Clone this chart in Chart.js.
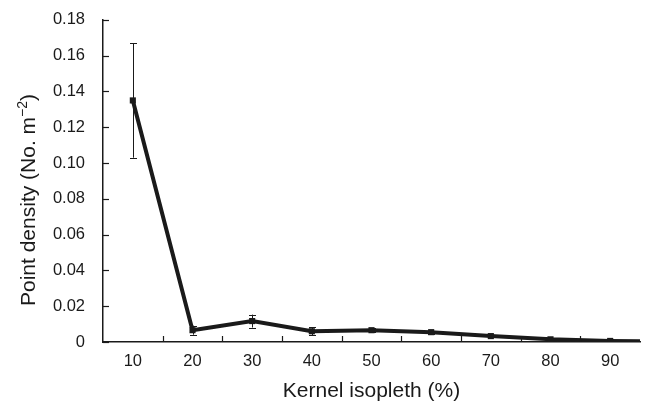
<!DOCTYPE html>
<html>
<head>
<meta charset="utf-8">
<script src="https://cdn.jsdelivr.net/npm/chart.js@4"></script>
<style>
  html, body { margin: 0; padding: 0; background: #fff; }
  #wrap { width: 649px; height: 405px; }
</style>
</head>
<body>
<div id="wrap"><canvas id="densityChart"></canvas></div>
<script>
// Kernel isopleth (%) and point density
const isopleths = [10, 20, 30, 40, 50, 60, 70, 80, 90, 100];
const density = [0.135, 0.0066, 0.0117, 0.006, 0.0066, 0.0055, 0.0033, 0.0015, 0.0006, 0.0001];
const densityErr = [0.032, 0.0025, 0.0036, 0.0022, 0.0012, 0.0008, 0.0005, 0.0003, 0.0002, 0];
const xTickLabels = [10, 20, 30, 40, 50, 60, 70, 80, 90];
const xTickMarks = [15, 25, 35, 45, 55, 65, 75, 85];

const INK = '#1a1a1a';
const FONT = 'Liberation Sans, Arial, sans-serif';

// error bars, inward tick marks, y title with a real superscript
const extras = {
    id: 'extras',
    afterDatasetsDraw(chart) {
        const ctx = chart.ctx;
        const x = chart.scales.x;
        const y = chart.scales.y;
        const area = chart.chartArea;
        const meta = chart.getDatasetMeta(0);

        ctx.save();
        ctx.beginPath();
        ctx.rect(area.left, area.top - 10, area.right - area.left, area.bottom - area.top + 10);
        ctx.clip();
        ctx.strokeStyle = INK;
        ctx.lineWidth = 1;
        meta.data.forEach((pt, i) => {
            const e = densityErr[i];
            if (!e) return;
            const yTop = y.getPixelForValue(density[i] + e);
            const yBot = y.getPixelForValue(Math.max(density[i] - e, 0));
            const px = Math.round(pt.x) + 0.5;
            ctx.beginPath();
            ctx.moveTo(px, yTop);
            ctx.lineTo(px, yBot);
            ctx.moveTo(px - 3.5, Math.round(yTop) + 0.5);
            ctx.lineTo(px + 3.5, Math.round(yTop) + 0.5);
            ctx.moveTo(px - 3.5, Math.round(yBot) + 0.5);
            ctx.lineTo(px + 3.5, Math.round(yBot) + 0.5);
            ctx.stroke();
        });
        ctx.restore();

        ctx.save();
        ctx.strokeStyle = INK;
        ctx.lineWidth = 1.2;
        y.ticks.forEach(t => {
            const py = Math.round(y.getPixelForValue(t.value)) + 0.5;
            ctx.beginPath();
            ctx.moveTo(area.left, py);
            ctx.lineTo(area.left + 6, py);
            ctx.stroke();
        });
        xTickMarks.forEach(v => {
            const px = Math.round(x.getPixelForValue(v)) + 0.5;
            ctx.beginPath();
            ctx.moveTo(px, area.bottom);
            ctx.lineTo(px, area.bottom - 6);
            ctx.stroke();
        });
        ctx.restore();
    },
    afterDraw(chart) {
        const ctx = chart.ctx;
        const main = 'Point density (No. m';
        const sup = '−2';
        const close = ')';
        ctx.save();
        ctx.fillStyle = INK;
        ctx.textBaseline = 'alphabetic';
        ctx.textAlign = 'left';
        ctx.font = '21px ' + FONT;
        const wMain = ctx.measureText(main).width;
        const wClose = ctx.measureText(close).width;
        ctx.font = '14px ' + FONT;
        const wSup = ctx.measureText(sup).width;
        const total = wMain + wSup + wClose;
        ctx.translate(35, 200);
        ctx.rotate(-Math.PI / 2);
        let cx = -total / 2;
        ctx.font = '21px ' + FONT;
        ctx.fillText(main, cx, 0);
        cx += wMain;
        ctx.font = '14px ' + FONT;
        ctx.fillText(sup, cx, -8);
        cx += wSup;
        ctx.font = '21px ' + FONT;
        ctx.fillText(close, cx, 0);
        ctx.restore();
    }
};

new Chart(document.getElementById('densityChart'), {
    type: 'line',
    data: {
        datasets: [{
            data: isopleths.map((v, i) => ({ x: v, y: density[i] })),
            borderColor: INK,
            backgroundColor: INK,
            borderWidth: 4,
            pointStyle: 'rect',
            pointRadius: 1.5,
            pointHoverRadius: 1.5,
            tension: 0
        }]
    },
    options: {
        responsive: true,
        maintainAspectRatio: false,
        animation: false,
        layout: { padding: { top: 15, right: 9, left: 0, bottom: 0 } },
        plugins: { legend: { display: false }, tooltip: { enabled: false } },
        scales: {
            x: {
                type: 'linear',
                min: 5,
                max: 95,
                afterBuildTicks: s => { s.ticks = xTickLabels.map(v => ({ value: v })); },
                afterFit: s => { s.height = 63; },
                grid: { display: false },
                border: { display: true, color: INK, width: 1.5 },
                ticks: { color: INK, font: { family: FONT, size: 16.5 }, padding: 2, maxRotation: 0 },
                title: {
                    display: true,
                    text: 'Kernel isopleth (%)',
                    color: INK,
                    font: { family: FONT, size: 21 },
                    padding: { top: 2, bottom: 1 }
                }
            },
            y: {
                min: 0,
                max: 0.18,
                afterFit: s => { s.width = 103; },
                grid: { display: false },
                border: { display: true, color: INK, width: 1.5 },
                ticks: {
                    stepSize: 0.02,
                    color: INK,
                    font: { family: FONT, size: 16.5 },
                    padding: 10,
                    callback: v => v === 0 ? '0' : v.toFixed(2)
                },
                title: { display: false }
            }
        }
    },
    plugins: [extras]
});
</script>
</body>
</html>
